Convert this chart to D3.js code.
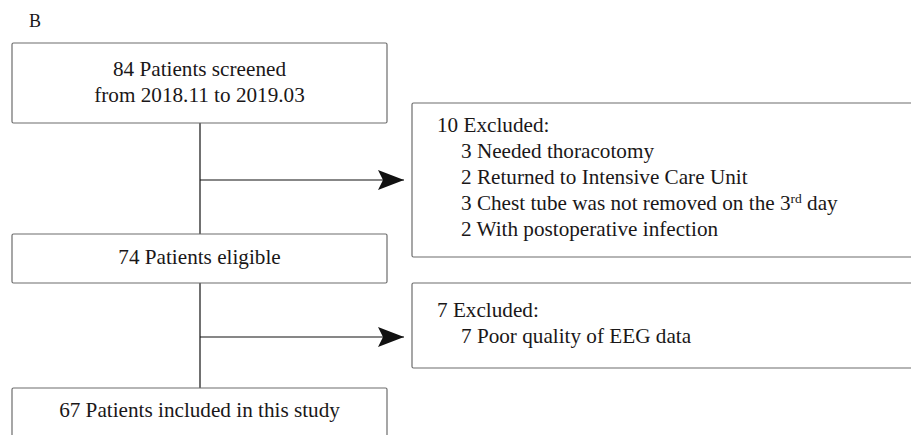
<!DOCTYPE html>
<html>
<head>
<meta charset="utf-8">
<script src="https://cdn.jsdelivr.net/npm/d3@7"></script>
<style>
  body { margin: 0; background: #fff; }
  svg text { font-family: "Liberation Serif", "Times New Roman", serif; fill: #1a1718; }
</style>
</head>
<body>
<svg id="chart" width="911" height="435"></svg>
<script>
// flow stages (left column) and exclusions (right column)
var panelLabel = "B";
var stageLines = [
    ["84 Patients screened", "from 2018.11 to 2019.03"],
    ["74 Patients eligible"],
    ["67 Patients included in this study"]
];
var excludedHeads = ["10 Excluded:", "7 Excluded:"];
var excludedReasons = [
    [["3 Needed thoracotomy"], ["2 Returned to Intensive Care Unit"],
     ["3 Chest tube was not removed on the 3", "rd", " day"], ["2 With postoperative infection"]],
    [["7 Poor quality of EEG data"]]
];

var svg = d3.select("#chart");
var fontSize = 21.2;
var lineGap = 26;

// layout
var stageBoxes = [
    {top: 43, bottom: 123, first: 76},
    {top: 234, bottom: 283, first: 264},
    {top: 388, bottom: 460, first: 417}
];
var sideBoxes = [
    {top: 103, bottom: 257, first: 132, arrowY: 180},
    {top: 283, bottom: 368, first: 317, arrowY: 337}
];
var leftX = 12, rightX = 387, spineX = 200, sideX = 412;

svg.append("defs").append("marker")
    .attr("id", "head")
    .attr("viewBox", "-27 -11 28 22")
    .attr("refX", 0).attr("refY", 0)
    .attr("markerUnits", "userSpaceOnUse")
    .attr("markerWidth", 28).attr("markerHeight", 22)
    .attr("orient", "auto")
  .append("path")
    .attr("d", "M0,0L-26,-10L-21,0L-26,10Z")
    .attr("fill", "#111");

svg.append("text")
    .attr("x", 29).attr("y", 27)
    .attr("font-size", 18)
    .text(panelLabel);

// vertical connectors
var spine = svg.append("g").attr("stroke", "#111").attr("stroke-width", 1.2);
d3.range(stageBoxes.length - 1).forEach(function(i) {
    spine.append("line")
        .attr("x1", spineX).attr("x2", spineX)
        .attr("y1", stageBoxes[i].bottom).attr("y2", stageBoxes[i + 1].top);
});
sideBoxes.forEach(function(b) {
    spine.append("line")
        .attr("x1", spineX).attr("x2", sideX - 8)
        .attr("y1", b.arrowY).attr("y2", b.arrowY)
        .attr("marker-end", "url(#head)");
});

// stage boxes
var stage = svg.selectAll("g.stage")
    .data(stageLines)
    .enter().append("g")
    .attr("class", "stage");

stage.append("rect")
    .attr("x", leftX)
    .attr("y", function(d, i) { return stageBoxes[i].top; })
    .attr("width", rightX - leftX)
    .attr("height", function(d, i) { return stageBoxes[i].bottom - stageBoxes[i].top; })
    .attr("rx", 1.5)
    .attr("fill", "#fff")
    .attr("stroke", "#6d6d6d")
    .attr("stroke-width", 1.2);

stage.each(function(lines, i) {
    var g = d3.select(this);
    lines.forEach(function(t, j) {
        g.append("text")
            .attr("x", (leftX + rightX) / 2)
            .attr("y", stageBoxes[i].first + j * lineGap)
            .attr("text-anchor", "middle")
            .attr("font-size", fontSize)
            .text(t);
    });
});

// exclusion boxes
var side = svg.selectAll("g.side")
    .data(excludedHeads)
    .enter().append("g")
    .attr("class", "side");

side.append("rect")
    .attr("x", sideX)
    .attr("y", function(d, i) { return sideBoxes[i].top; })
    .attr("width", 540)
    .attr("height", function(d, i) { return sideBoxes[i].bottom - sideBoxes[i].top; })
    .attr("rx", 1.5)
    .attr("fill", "#fff")
    .attr("stroke", "#6d6d6d")
    .attr("stroke-width", 1.2);

side.append("text")
    .attr("x", sideX + 25)
    .attr("y", function(d, i) { return sideBoxes[i].first; })
    .attr("font-size", fontSize)
    .text(function(d) { return d; });

side.each(function(d, i) {
    var g = d3.select(this);
    excludedReasons[i].forEach(function(parts, j) {
        var t = g.append("text")
            .attr("x", sideX + 49)
            .attr("y", sideBoxes[i].first + (j + 1) * lineGap)
            .attr("font-size", fontSize);
        parts.forEach(function(p, k) {
            var sp = t.append("tspan").text(p);
            if (k === 1) sp.attr("dy", -7).attr("font-size", 13.5);
            if (k === 2) sp.attr("dy", 7);
        });
    });
});
</script>
</body>
</html>
